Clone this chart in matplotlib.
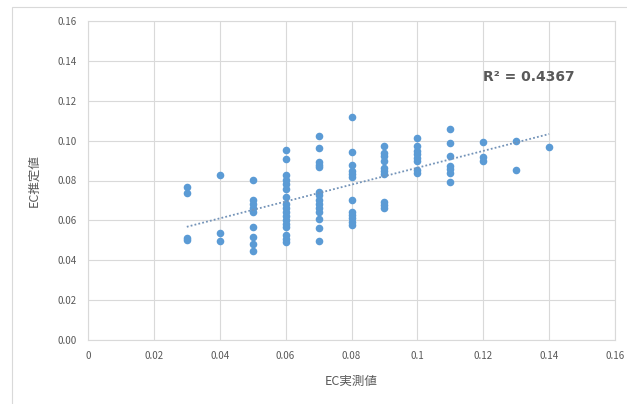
import matplotlib.pyplot as plt
import numpy as np
from matplotlib.patches import Rectangle

plt.rcParams['font.family'] = ['Noto Sans CJK JP', 'DejaVu Sans']

# measured EC (x) and estimated EC (y), grouped by measured value
x_groups = [0.03, 0.04, 0.05, 0.06, 0.07, 0.08, 0.09, 0.10, 0.11, 0.12, 0.13, 0.14]
y_groups = [
    [0.0765, 0.0735, 0.051, 0.050],
    [0.0827, 0.0535, 0.0495],
    [0.0805, 0.070, 0.068, 0.066, 0.064, 0.0565, 0.0515, 0.048, 0.0445],
    [0.0955, 0.091, 0.083, 0.0805, 0.078, 0.0755, 0.0715, 0.068, 0.066, 0.064,
     0.062, 0.060, 0.058, 0.0565, 0.0525, 0.0505, 0.049],
    [0.1025, 0.0965, 0.0895, 0.088, 0.087, 0.074, 0.0725, 0.070, 0.068, 0.066,
     0.064, 0.0605, 0.056, 0.0497],
    [0.112, 0.0945, 0.088, 0.085, 0.0835, 0.082, 0.070, 0.064, 0.0625, 0.061,
     0.059, 0.0575],
    [0.0975, 0.094, 0.0925, 0.090, 0.0865, 0.085, 0.0835, 0.069, 0.0675, 0.066],
    [0.1015, 0.0975, 0.095, 0.0935, 0.0915, 0.090, 0.0855, 0.084],
    [0.106, 0.099, 0.0925, 0.0875, 0.086, 0.084, 0.079],
    [0.0995, 0.092, 0.090],
    [0.100, 0.0853],
    [0.097],
]
x_ticks = [0, 0.02, 0.04, 0.06, 0.08, 0.1, 0.12, 0.14, 0.16]
x_tick_labels = ['0', '0.02', '0.04', '0.06', '0.08', '0.1', '0.12', '0.14', '0.16']
y_ticks = [0, 0.02, 0.04, 0.06, 0.08, 0.10, 0.12, 0.14, 0.16]
r2_text = 'R² = 0.4367'

xs = np.concatenate([[x] * len(ys) for x, ys in zip(x_groups, y_groups)])
ys = np.concatenate(y_groups)

fig = plt.figure(figsize=(6.27, 4.04), dpi=100)
fig.patches.append(Rectangle((12 / 627, -0.1), 1.2, (404 - 7) / 404 + 0.1,
                             transform=fig.transFigure, fill=False,
                             edgecolor='#d9d9d9', linewidth=0.8))
ax = fig.add_axes([88 / 627, 64 / 404, 527 / 627, 319 / 404])

grey = '#d9d9d9'
ax.grid(True, color=grey, linewidth=0.8)
ax.set_axisbelow(True)
for s in ax.spines.values():
    s.set_color(grey)
    s.set_linewidth(0.8)

ax.scatter(xs, ys, s=30, color='#5b9bd5', zorder=3, linewidths=0)

coef = np.polyfit(xs, ys, 1)
lx = np.array([min(x_groups), max(x_groups)])
ax.plot(lx, np.polyval(coef, lx), linestyle=(0, (1, 1.2)), color='#7393b8',
        linewidth=1.3, zorder=4)

ax.set_xlim(0, 0.16)
ax.set_ylim(0, 0.16)
ax.set_xticks(x_ticks)
ax.set_xticklabels(x_tick_labels)
ax.set_yticks(y_ticks)
ax.set_yticklabels([f'{v:.2f}' for v in y_ticks])
ax.tick_params(length=0, labelsize=7, colors='#595959', pad=8)

ax.set_xlabel('EC実測値', fontsize=9, color='#595959', labelpad=10)
ax.set_ylabel('EC推定値', fontsize=9, color='#595959', labelpad=12)

ax.text(0.75, 0.824, r2_text, transform=ax.transAxes, fontsize=10,
        family='DejaVu Sans', fontweight='bold', color='#595959',
        va='center', ha='left')

fig.savefig('out.png', dpi=100)
